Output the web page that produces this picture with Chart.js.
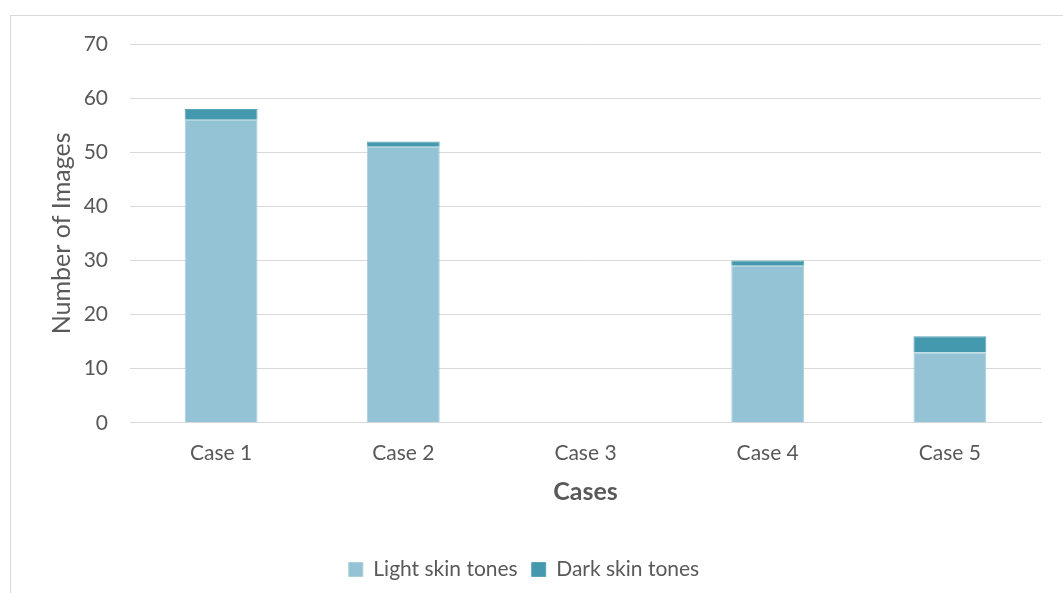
<!DOCTYPE html>
<html>
<head>
<meta charset="utf-8">
<script src="https://cdn.jsdelivr.net/npm/chart.js@4/dist/chart.umd.min.js"></script>
<style>
  html, body { margin: 0; padding: 0; background: #fff; }
  #frame {
    position: absolute; left: 10px; top: 15px; width: 1100px; height: 640px;
    border-left: 1px solid #D9D9D9; border-top: 1px solid #D9D9D9;
  }
  #wrap { position: absolute; left: 0; top: 0; width: 1063px; height: 593px; }
</style>
</head>
<body>
<div id="frame"></div>
<div id="wrap"><canvas id="c" width="1063" height="593"></canvas></div>
<script>
const categories = ['Case 1', 'Case 2', 'Case 3', 'Case 4', 'Case 5'];
const lightSkin = [56, 51, 0, 29, 13];
const darkSkin = [2, 1, 0, 1, 3];
const yTicks = [0, 10, 20, 30, 40, 50, 60, 70];

const FONT = 'Lato, "Open Sans", sans-serif';
const TEXT = '#595959';
const PAD_LEFT = 7;

new Chart(document.getElementById('c'), {
  type: 'bar',
  data: {
    labels: categories,
    datasets: [
      { label: 'Light skin tones', data: lightSkin, backgroundColor: '#93C3D4',
        borderColor: '#A9CFDD', borderWidth: 1, borderSkipped: 'bottom',
        categoryPercentage: 1, barPercentage: 0.4 },
      { label: 'Dark skin tones', data: darkSkin, backgroundColor: '#4499AE',
        borderColor: '#5AA5B8', borderWidth: 1, borderSkipped: 'bottom',
        categoryPercentage: 1, barPercentage: 0.4 }
    ]
  },
  options: {
    responsive: false,
    animation: false,
    layout: { padding: { left: PAD_LEFT, right: 22, top: 44, bottom: 3 } },
    plugins: {
      tooltip: { enabled: false },
      legend: {
        position: 'bottom',
        labels: {
          font: { family: FONT, size: 21 }, color: TEXT,
          boxWidth: 14, boxHeight: 14, padding: 14, useBorderRadius: false
        }
      }
    },
    scales: {
      x: {
        stacked: true,
        grid: { display: false, drawTicks: false },
        border: { color: '#D9D9D9', width: 1 },
        ticks: { font: { family: FONT, size: 21 }, color: TEXT, padding: 18 },
        title: { display: true, text: 'Cases', color: TEXT,
                 font: { family: FONT, size: 25, weight: 'bold' }, padding: { top: -7, bottom: 38 } }
      },
      y: {
        stacked: true,
        min: 0, max: 70,
        afterBuildTicks: (s) => { s.ticks = yTicks.map(v => ({ value: v })); },
        afterFit: (s) => { s.width = 130 - PAD_LEFT; },
        grid: { color: '#D9D9D9', lineWidth: 1, drawTicks: false },
        border: { display: false },
        ticks: { font: { family: FONT, size: 21 }, color: TEXT, padding: 22 },
        title: { display: true, text: 'Number of Images', color: TEXT,
                 font: { family: FONT, size: 25 }, padding: { top: 40, bottom: 7 } }
      }
    }
  }
});
</script>
</body>
</html>
